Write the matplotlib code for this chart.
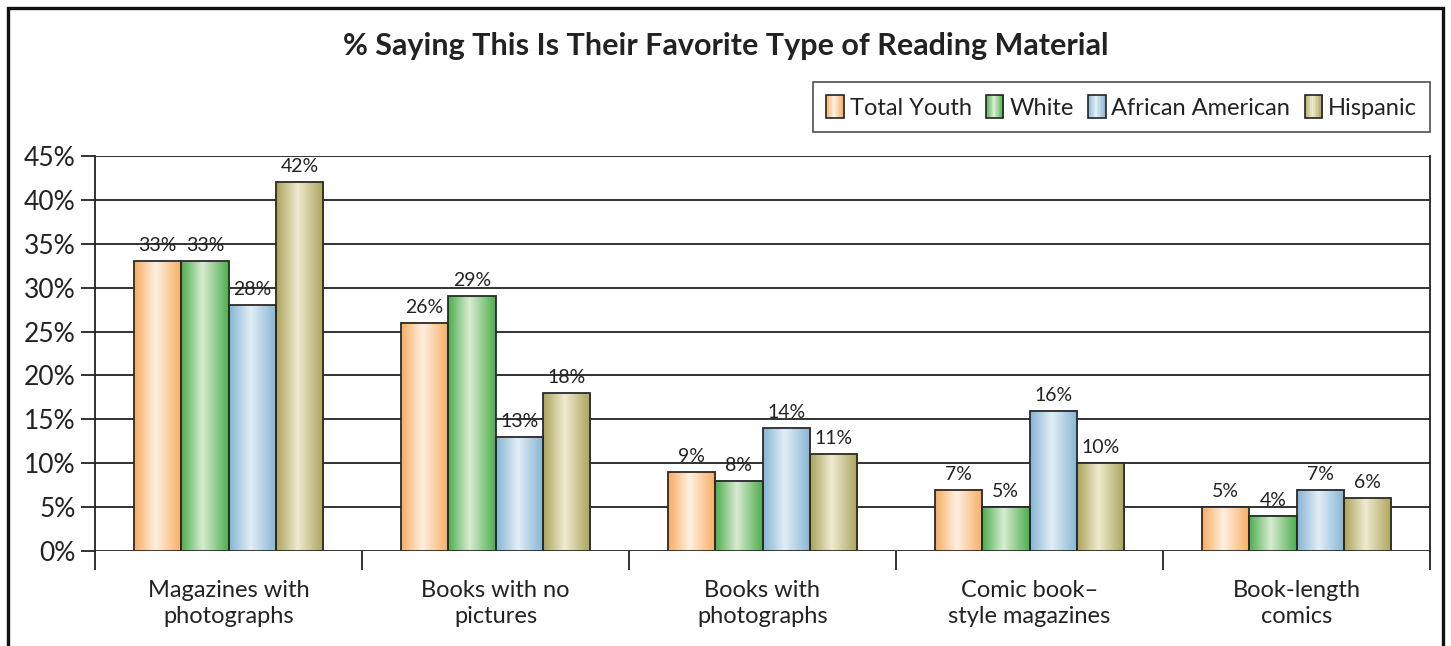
import numpy as np
import matplotlib.pyplot as plt
from matplotlib.colors import LinearSegmentedColormap
from matplotlib.patches import Rectangle
from matplotlib.legend_handler import HandlerBase

plt.rcParams["font.family"] = ["Lato", "DejaVu Sans"]

categories = ["Magazines with\nphotographs", "Books with no\npictures",
              "Books with\nphotographs", "Comic book\u2013\nstyle magazines",
              "Book-length\ncomics"]
groups = ["Total Youth", "White", "African American", "Hispanic"]
total_youth = [33, 26, 9, 7, 5]
white = [33, 29, 8, 5, 4]
african_american = [28, 13, 14, 16, 7]
hispanic = [42, 18, 11, 10, 6]
series = [total_youth, white, african_american, hispanic]
yticks = [0, 5, 10, 15, 20, 25, 30, 35, 40, 45]

# edge colour, highlight colour for the cylinder shading
shades = [("#f8ad62", "#fff0e2"),
          ("#4eae4e", "#d8ecd2"),
          ("#86b5d4", "#e2eef6"),
          ("#aca35a", "#efebd2")]


def shade_cmap(edge, light):
    return LinearSegmentedColormap.from_list(
        "shade", [(0.0, edge), (0.45, light), (1.0, edge)])


cmaps = [shade_cmap(e, l) for e, l in shades]
ramp = np.linspace(0, 1, 64)[np.newaxis, :]


class GradientHandler(HandlerBase):
    def create_artists(self, legend, orig_handle, xdescent, ydescent,
                       width, height, fontsize, trans):
        cmap = orig_handle.cmap
        n = 12
        arts = []
        for k in range(n):
            arts.append(Rectangle((-xdescent + width * k / n, -ydescent),
                                  width / n + 0.3, height,
                                  facecolor=cmap((k + 0.5) / n),
                                  edgecolor="none", transform=trans))
        arts.append(Rectangle((-xdescent, -ydescent), width, height,
                              facecolor="none", edgecolor="#222222",
                              lw=1.2, transform=trans))
        return arts


class Swatch:
    def __init__(self, cmap):
        self.cmap = cmap


W, H = 1451, 646
fig = plt.figure(figsize=(W / 100, H / 100), dpi=100)
ax = fig.add_axes([95 / W, 1 - 551 / H, (1430 - 95) / W, (551 - 156) / H])

n = len(categories)
bw = 0.177
x = np.arange(n)
for gi, vals in enumerate(series):
    for ci, v in enumerate(vals):
        x0 = ci - 2 * bw + gi * bw
        ax.imshow(ramp, extent=[x0, x0 + bw, 0, v], aspect="auto",
                  cmap=cmaps[gi], zorder=2, interpolation="bilinear")
        ax.add_patch(Rectangle((x0, 0), bw, v, facecolor="none",
                               edgecolor="#2a2a2a", lw=1.3, zorder=3))
        ax.annotate(f"{v}%", (x0 + bw / 2, v), xytext=(0, 5),
                    textcoords="offset points", ha="center", va="bottom",
                    fontsize=14, color="#222222")

ax.set_xlim(-0.5, n - 0.5)
ax.set_ylim(0, 45)
ax.set_yticks(yticks)
ax.set_yticklabels([f"{t}%" for t in yticks], fontsize=19, color="#222222")
ax.set_xticks(x)
ax.set_xticklabels(categories, fontsize=17, color="#222222", linespacing=1.3)
ax.set_xticks(np.arange(-0.5, n, 1.0), minor=True)
ax.tick_params(axis="x", which="major", length=0, pad=21)
ax.tick_params(axis="x", which="minor", length=14, width=1.3, color="#222222")
ax.tick_params(axis="y", length=10, width=1.3, color="#222222", pad=4)
ax.yaxis.grid(True, color="#222222", lw=1.3)
ax.set_axisbelow(True)
for side in ("top", "bottom"):
    ax.spines[side].set_visible(False)
for side in ("left", "right"):
    ax.spines[side].set_linewidth(1.3)
    ax.spines[side].set_color("#222222")

fig.text(726 / W, 1 - 46 / H,
         "% Saying This Is Their Favorite Type of Reading Material",
         ha="center", va="center", fontsize=22, fontweight="bold",
         color="#222222")

handles = [Swatch(c) for c in cmaps]
leg = fig.legend(handles, groups, handler_map={Swatch: GradientHandler()},
                 loc="upper right", bbox_to_anchor=(1430 / W, 1 - 82 / H),
                 ncol=4, frameon=True, fancybox=False, fontsize=17,
                 handlelength=0.75, handleheight=1.15, handletextpad=0.25,
                 columnspacing=0.6, borderpad=0.55, borderaxespad=0)
leg.get_frame().set_edgecolor("#222222")
leg.get_frame().set_linewidth(1.2)
for t in leg.get_texts():
    t.set_color("#222222")

fig.add_artist(Rectangle((8 / W, -0.2), (1443 - 8) / W, 1.2 - 8 / H,
                         transform=fig.transFigure, fill=False,
                         edgecolor="#111111", lw=2.4))

fig.savefig("out.png", dpi=100)
